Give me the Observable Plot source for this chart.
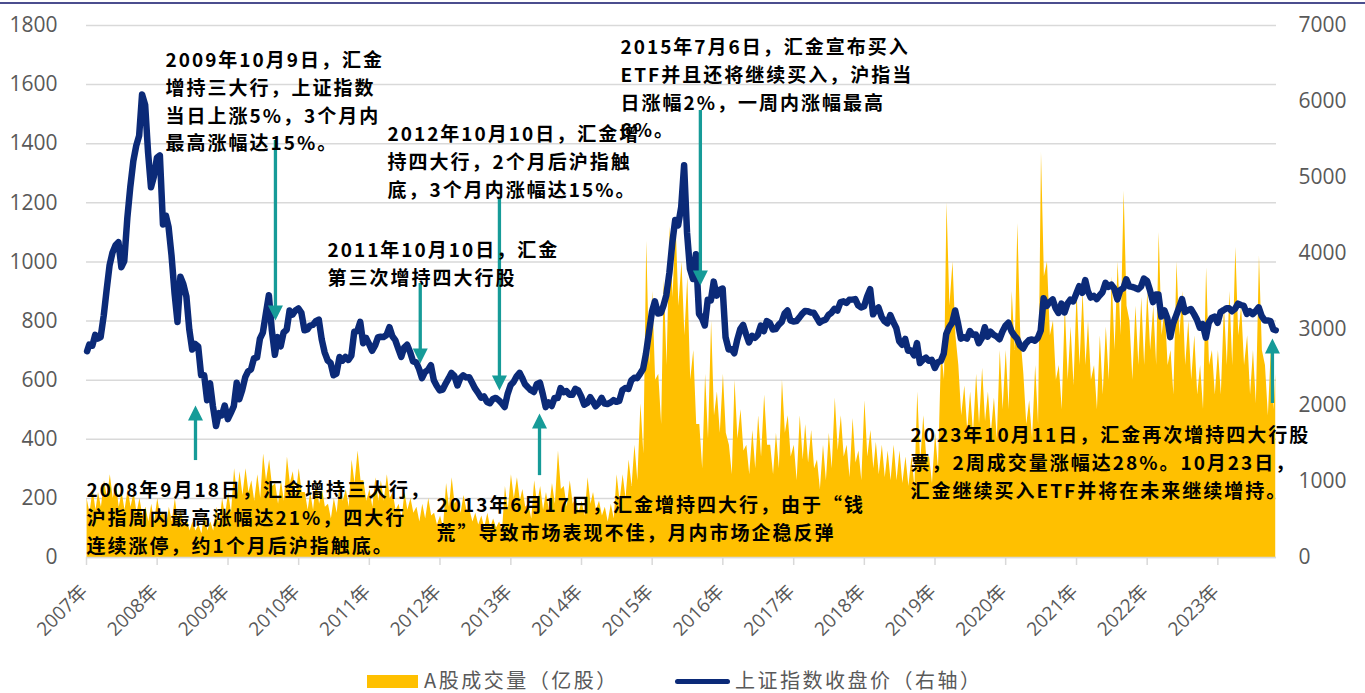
<!DOCTYPE html>
<html>
<head>
<meta charset="utf-8">
<script src="https://cdn.jsdelivr.net/npm/d3@7"></script>
<script src="https://cdn.jsdelivr.net/npm/@observablehq/plot@0.6"></script>
<style>
body{margin:0;background:#fff;}
#wrap{position:relative;width:1365px;height:693px;overflow:hidden;background:#fff;}
#topline{position:absolute;left:0;top:2px;width:1365px;height:2px;background:#4b4e8e;}
#chart{position:absolute;left:0;top:0;}
#legend{position:absolute;left:0;top:666px;width:1365px;height:27px;font-family:"Noto Sans CJK SC",sans-serif;font-size:20px;color:#595959;letter-spacing:2.5px;}
#legend .sw1{position:absolute;left:367px;top:9px;width:51px;height:13px;background:#FFC000;}
#legend .t1{position:absolute;left:424px;top:0;line-height:27px;}
#legend .sw2{position:absolute;left:675px;top:13px;width:55px;height:5px;border-radius:3px;background:#0b2a78;}
#legend .t2{position:absolute;left:735px;top:0;line-height:27px;}
g.notes text{letter-spacing:2px;}
</style>
</head>
<body>
<div id="wrap">
  <div id="chart"></div>
  <div id="topline"></div>
  <div id="legend"></div>
</div>
<script>
// ---------- data ----------
const seriesNames = ["A股成交量（亿股）", "上证指数收盘价（右轴）"];
const firstMonth = "2007-01-01";
const firstDay = "2007-01-04";
const lastDay = "2023-10-27";

// Shanghai Composite close (right axis): start value, then mid-month and month-end values
const idxStart = 2715;
const idxMid = [
  2800,2930,2900,3520,4010,4150,3900,4870,5420,6092,5330,5010, // 2007
  5290,4500,3980,3100,3600,3000,2810,2400,2070,1990,1900,2000, // 2008
  1900,2300,2200,2450,2620,2880,3200,3000,2900,2960,3250,3250, // 2009
  3220,3000,3060,3130,2700,2560,2420,2590,2600,2970,3100,2890, // 2010
  2720,2900,2900,3030,2860,2640,2800,2580,2480,2440,2530,2260, // 2011
  2210,2360,2390,2360,2370,2300,2170,2120,2030,2100,2030,2150, // 2012
  2310,2430,2280,2200,2280,2150,2040,2100,2230,2190,2140,2200, // 2013
  2010,2110,1990,2100,2020,2070,2060,2230,2330,2360,2480,2950, // 2014
  3370,3220,3450,4140,4370,5160,3800,3990,3150,3390,3630,3520, // 2015
  2900,2740,2860,3060,2830,2890,3050,3110,3000,3060,3210,3120, // 2016
  3110,3210,3240,3220,3090,3130,3220,3250,3370,3390,3400,3290, // 2017
  3430,3200,3290,3110,3190,3020,2800,2720,2660,2560,2630,2600, // 2018
  2570,2680,3030,3250,2880,2880,2930,2820,3030,2970,2910,2970, // 2019
  3090,2920,2790,2820,2870,2890,3410,3360,3280,3340,3340,3370, // 2020
  3570,3650,3420,3400,3490,3560,3540,3520,3660,3560,3530,3670, // 2021
  3520,3460,3170,3150,3080,3290,3230,3270,3130,3070,3090,3170, // 2022
  3230,3280,3240,3340,3310,3240,3240,3180,3120,3000            // 2023
];
const idxEnd = [
  2786,2881,3183,3841,4109,3820,4471,5218,5552,5955,4871,5262, // 2007
  4383,4348,3473,3693,3433,2736,2776,2397,2293,1729,1871,1821, // 2008
  1991,2082,2373,2477,2633,2959,3450,2667,2779,2996,3195,3277, // 2009
  2989,3051,3110,2870,2592,2398,2638,2639,2656,2979,2820,2808, // 2010
  2791,2905,2928,2911,2743,2762,2701,2567,2359,2468,2333,2199, // 2011
  2292,2428,2263,2397,2373,2225,2103,2047,2086,2069,1980,2269, // 2012
  2385,2366,2237,2178,2301,1979,1994,2098,2175,2142,2220,2116, // 2013
  2033,2056,2033,2026,2039,2048,2202,2217,2364,2420,2683,3235, // 2014
  3210,3310,3748,4442,4612,4277,3664,3206,3053,3383,3445,3539, // 2015
  2738,2688,3004,2938,2917,2930,2979,3085,3005,3100,3250,3104, // 2016
  3159,3242,3223,3155,3117,3192,3273,3361,3349,3393,3317,3307, // 2017
  3530,3259,3169,3082,3095,2847,2876,2725,2821,2603,2588,2494, // 2018
  2585,2941,3091,3078,2899,2979,2933,2886,2905,2929,2872,3050, // 2019
  2977,2880,2750,2860,2852,2985,3310,3396,3218,3225,3392,3473, // 2020
  3483,3509,3442,3447,3615,3591,3397,3544,3568,3547,3564,3640, // 2021
  3361,3462,3252,2900,3186,3399,3253,3202,3024,2893,3151,3089, // 2022
  3255,3280,3273,3323,3205,3202,3291,3120,3110,2990            // 2023
];

// A-share volume (亿股, left axis): early-month spike and later-month level
const volPeak = [
  200,230,220,260,280,250,220,230,220,200,170,180, // 2007
  200,150,170,200,160,130,120,110,150,120,170,200, // 2008
  220,300,290,300,260,280,350,330,250,260,340,290, // 2009
  300,220,220,260,230,180,200,260,230,330,360,260, // 2010
  230,270,260,280,220,180,220,200,170,180,200,150, // 2011
  140,250,270,200,210,160,150,140,150,130,120,240, // 2012
  280,270,230,180,260,240,220,250,360,240,260,200, // 2013
  190,270,220,190,170,180,280,280,330,380,520,1070, // 2014
  900,620,940,1120,1140,1000,950,700,450,620,800,560, // 2015
  620,380,600,500,380,430,480,550,380,420,600,480, // 2016
  380,480,450,430,330,380,420,540,480,380,470,360, // 2017
  530,430,390,380,360,380,360,340,340,560,480,340, // 2018
  420,700,1200,1000,650,580,560,620,640,560,540,700, // 2019
  700,900,1130,620,530,650,1370,1000,800,650,850,780, // 2020
  900,900,800,650,750,780,950,1000,1240,800,850,880, // 2021
  900,850,1100,850,700,1000,900,800,750,650,980,700, // 2022
  700,850,900,1050,850,750,700,1020,650,700          // 2023
];
const volBase = [
  150,160,170,200,200,170,160,170,150,140,120,120, // 2007
  140,110,120,120,110,90,90,80,90,90,110,140,      // 2008
  150,210,210,220,190,200,260,240,180,190,250,210, // 2009
  220,160,160,180,170,130,150,190,170,250,260,190, // 2010
  170,190,190,200,160,130,160,150,120,130,140,110, // 2011
  100,170,180,150,160,120,110,100,100,100,90,160,  // 2012
  200,190,170,130,180,160,160,180,230,170,180,150, // 2013
  140,180,160,140,120,130,190,200,240,260,350,650, // 2014
  600,450,650,880,850,750,600,450,300,400,480,420, // 2015
  420,280,400,360,280,300,340,380,280,300,420,340, // 2016
  260,330,320,300,230,260,300,360,340,270,320,260, // 2017
  340,300,280,270,260,260,250,240,240,320,340,250, // 2018
  300,600,850,750,480,430,420,450,460,420,400,500, // 2019
  500,700,750,450,400,450,950,750,600,500,600,580, // 2020
  650,650,600,500,550,600,700,750,850,600,650,650, // 2021
  700,650,750,650,550,750,650,600,550,500,650,550, // 2022
  550,650,650,750,650,550,520,700,480,500          // 2023
];
const volLast = 620;

const leftTicks = [0,200,400,600,800,1000,1200,1400,1600,1800];
const rightTicks = [0,1000,2000,3000,4000,5000,6000,7000];
const yearTicks = d3.range(2007, 2024);

// Huijin events (date of arrow, arrow tail and head on left-axis units)
const noteTexts = [
  "2009年10月9日，汇金\n增持三大行，上证指数\n当日上涨5%，3个月内\n最高涨幅达15%。",
  "2012年10月10日，汇金增\n持四大行，2个月后沪指触\n底，3个月内涨幅达15%。",
  "2015年7月6日，汇金宣布买入\nETF并且还将继续买入，沪指当\n日涨幅2%，一周内涨幅最高\n6%。",
  "2011年10月10日，汇金\n第三次增持四大行股",
  "2008年9月18日，汇金增持三大行，\n沪指周内最高涨幅达21%，四大行\n连续涨停，约1个月后沪指触底。",
  "2013年6月17日，汇金增持四大行，由于“钱\n荒”导致市场表现不佳，月内市场企稳反弹",
  "2023年10月11日，汇金再次增持四大行股\n票，2周成交量涨幅达28%。10月23日，\n汇金继续买入ETF并将在未来继续增持。"
];
const arrowDates = ["2008-07-17","2009-09-03","2011-09-21","2012-11-03","2013-05-29","2015-09-07","2023-10-10"];
const arrowFrom  = [328, 1411, 927, 1218, 277, 1512, 521];
const arrowTo    = [514,  802, 656,  565, 487,  920, 741];

// ---------- build tables ----------
const k = 1800 / 7000;
const months = d3.utcMonth.range(new Date(firstMonth), d3.utcMonth.offset(new Date(firstMonth), idxMid.length));
const indexRows = [{date: new Date(firstDay), v: idxStart}];
months.forEach((m, i) => {
  indexRows.push({date: d3.utcDay.offset(m, 14), v: idxMid[i]});
  const end = i === months.length - 1 ? new Date(lastDay) : d3.utcDay.offset(d3.utcMonth.offset(m, 1), -1);
  indexRows.push({date: end, v: idxEnd[i]});
});
const volRows = [];
months.forEach((m, i) => {
  volRows.push({date: d3.utcDay.offset(m, 3), v: volPeak[i]});
  volRows.push({date: d3.utcDay.offset(m, 18), v: volBase[i]});
});
volRows.push({date: new Date(lastDay), v: volLast});

const arrows = arrowDates.map((d, i) => ({date: new Date(d), from: arrowFrom[i], to: arrowTo[i], up: arrowTo[i] > arrowFrom[i]}));
const yearDates = yearTicks.map(y => new Date(Date.UTC(y, 0, 1)));

// note layout (offsets from the plot frame's top-left, px)
const noteLayout = [[79, 22], [301, 96], [534, 9], [241, 212], [0, 452], [350, 467], [824, 397]];

const teal = "#169b98";
const navy = "#0b2a78";
const headUp = {draw(ctx){ ctx.moveTo(0,0); ctx.lineTo(7.5,15); ctx.lineTo(-7.5,15); ctx.closePath(); }};
const headDown = {draw(ctx){ ctx.moveTo(0,0); ctx.lineTo(7.5,-15); ctx.lineTo(-7.5,-15); ctx.closePath(); }};

const noteMarks = noteTexts.map((t, i) => Plot.text([t], {
  frameAnchor: "top-left", text: d => d, dx: noteLayout[i][0], dy: noteLayout[i][1],
  textAnchor: "start", lineAnchor: "top", fontSize: 19, fontWeight: "bold",
  lineHeight: 1.46, fill: "#000", fontFamily: '"Noto Sans CJK SC", sans-serif', className: "notes"
}));

const chart = Plot.plot({
  width: 1365, height: 665,
  marginLeft: 86, marginRight: 89, marginTop: 25, marginBottom: 108,
  style: {fontFamily: '"Open Sans","Noto Sans CJK SC",sans-serif', background: "transparent", overflow: "visible"},
  x: {type: "utc", domain: [new Date("2007-01-01"), new Date("2023-10-31")]},
  y: {domain: [0, 1800]},
  marks: [
    Plot.gridY(leftTicks, {stroke: "#d9d9d9", strokeOpacity: 1, strokeWidth: 1.5}),
    Plot.areaY(volRows, {x: "date", y: "v", fill: "#FFC000", curve: "linear"}),
    Plot.ruleY([0], {stroke: "#d9d9d9", strokeWidth: 1.5}),
    Plot.lineY(indexRows, {x: "date", y: d => d.v * k, stroke: navy, strokeWidth: 6.5, strokeLinejoin: "round", strokeLinecap: "round"}),
    Plot.axisY(leftTicks, {anchor: "left", tickSize: 0, tickPadding: 29, fontSize: 21, color: "#595959", tickFormat: d => String(d), label: null}),
    Plot.axisY(rightTicks.map(v => v * k), {anchor: "right", tickSize: 0, tickPadding: 22, fontSize: 21, color: "#595959", tickFormat: d => String(Math.round(d / k)), label: null}),
    Plot.axisX(yearDates, {tickSize: 8, stroke: "#d9d9d9", strokeWidth: 1.5, tickFormat: () => "", label: null}),
    Plot.text(yearDates, {
      x: d => d, frameAnchor: "bottom", text: d => d.getUTCFullYear() + "年",
      rotate: -45, textAnchor: "end", lineAnchor: "middle", dy: 31, dx: -2,
      fontSize: 19, fill: "#595959"
    }),
    Plot.ruleX(arrows, {x: "date", y1: "from", y2: d => d.to + (d.up ? -30 : 30), stroke: teal, strokeWidth: 3.3}),
    Plot.dot(arrows.filter(d => d.up), {x: "date", y: "to", symbol: headUp, fill: teal, stroke: "none", r: 5}),
    Plot.dot(arrows.filter(d => !d.up), {x: "date", y: "to", symbol: headDown, fill: teal, stroke: "none", r: 5}),
    ...noteMarks
  ]
});
document.getElementById("chart").appendChild(chart);

document.getElementById("legend").innerHTML =
  `<div class="sw1"></div><div class="t1">${seriesNames[0]}</div><div class="sw2"></div><div class="t2">${seriesNames[1]}</div>`;
</script>
</body>
</html>
